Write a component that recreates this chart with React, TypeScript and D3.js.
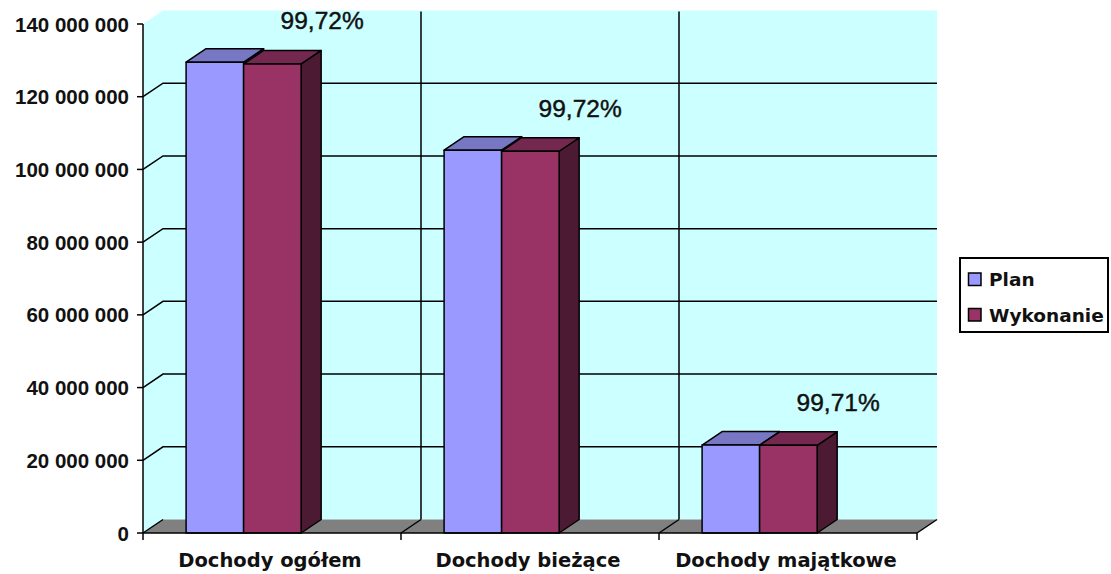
import React from "react";
import * as d3 from "d3";

const categories = ["Dochody ogółem", "Dochody bieżące", "Dochody majątkowe"];
const planValues = [129.5e6, 105.3e6, 24.2e6];
const wykonanieValues = [129.0e6, 105.0e6, 24.13e6];
const percentLabels = ["99,72%", "99,72%", "99,71%"];
const seriesNames = ["Plan", "Wykonanie"];
const yTicks = [0, 20e6, 40e6, 60e6, 80e6, 100e6, 120e6, 140e6];

const W = 1111;
const H = 574;
const DX = 20;
const DY = -13.5;

const colors = {
  plan: { front: "#9999ff", top: "#7777c4", side: "#5c5c99" },
  wyk: { front: "#993366", top: "#74284f", side: "#4d1a33" },
};

const fmt = (v: number) => d3.format(",")(v).replace(/,/g, " ");

function Bar({ x, w, yTop, y0, c }: { x: number; w: number; yTop: number; y0: number; c: any }) {
  const top = [
    [x, yTop],
    [x + DX, yTop + DY],
    [x + w + DX, yTop + DY],
    [x + w, yTop],
  ];
  const side = [
    [x + w, yTop],
    [x + w + DX, yTop + DY],
    [x + w + DX, y0 + DY],
    [x + w, y0],
  ];
  const pts = (p: number[][]) => p.map((q) => q.join(",")).join(" ");
  return (
    <g stroke="#000" strokeWidth={1.5} strokeLinejoin="round">
      <polygon points={pts(side)} fill={c.side} />
      <polygon points={pts(top)} fill={c.top} />
      <rect x={x} y={yTop} width={w} height={y0 - yTop} fill={c.front} />
    </g>
  );
}

export default function App() {
  const x = d3.scaleBand().domain(categories).range([143, 917]).padding(0);
  const y = d3.scaleLinear().domain([0, 140e6]).range([533, 24]);
  const bw = x.bandwidth();
  const [x0, x1] = x.range();
  const y0 = y(0);
  const yTop = y(140e6);

  const wall = [
    [x0, y0],
    [x0, yTop],
    [x0 + DX, yTop + DY],
    [x1 + DX, yTop + DY],
    [x1 + DX, y0 + DY],
    [x0 + DX, y0 + DY],
  ];
  const floor = [
    [x0, y0],
    [x0 + DX, y0 + DY],
    [x1 + DX, y0 + DY],
    [x1, y0],
  ];
  const pts = (p: number[][]) => p.map((q) => q.join(",")).join(" ");
  const bounds = [...categories.map((c) => x(c) as number), x1];

  return (
    <svg
      width={W}
      height={H}
      style={{ position: "absolute", left: 0, top: 0, background: "#fff" }}
    >
      <polygon points={pts(wall)} fill="#ccffff" />
      <polygon points={pts(floor)} fill="#808080" />

      {/* gridlines on side and back walls */}
      <g stroke="#000" strokeWidth={1.5} fill="none">
        {yTicks.slice(1, -1).map((v) => (
          <polyline
            key={v}
            points={`${x0},${y(v)} ${x0 + DX},${y(v) + DY} ${x1 + DX},${y(v) + DY}`}
          />
        ))}
        {bounds.slice(1, -1).map((b) => (
          <line key={b} x1={b + DX} x2={b + DX} y1={yTop + DY + 1} y2={y0 + DY} />
        ))}
        {bounds.map((b) => (
          <line key={"f" + b} x1={b} y1={y0} x2={b + DX} y2={y0 + DY} />
        ))}
      </g>

      {/* bars */}
      {categories.map((c, i) => {
        const bx = (x(c) as number) + bw * 0.167;
        const w = bw * 0.223;
        return (
          <g key={c}>
            <Bar x={bx} w={w} yTop={y(planValues[i])} y0={y0} c={colors.plan} />
            <Bar x={bx + w} w={w} yTop={y(wykonanieValues[i])} y0={y0} c={colors.wyk} />
            <text
              x={bx + 2 * w + DX + 1}
              y={y(wykonanieValues[i]) + DY - 21}
              textAnchor="middle"
              fontFamily="'Liberation Sans', Arial, sans-serif"
              fontSize={24.5}
              fill="#111"
              stroke="#111"
              strokeWidth={0.45}
            >
              {percentLabels[i]}
            </text>
          </g>
        );
      })}

      {/* axes */}
      <g stroke="#000" strokeWidth={1.5}>
        <line x1={x0} x2={x0} y1={yTop} y2={y0} />
        <line x1={x0} x2={x1} y1={y0} y2={y0} />
        {yTicks.map((v) => (
          <line key={v} x1={x0 - 6} x2={x0} y1={y(v)} y2={y(v)} />
        ))}
        {bounds.map((b) => (
          <line key={b} x1={b} x2={b} y1={y0} y2={y0 + 7} />
        ))}
      </g>
      <g
        fontFamily="'Liberation Sans', Arial, sans-serif"
        fontWeight="bold"
        fontSize={20.5}
        fill="#111"
        textAnchor="end"
      >
        {yTicks.map((v) => (
          <text key={v} x={x0 - 14} y={y(v) + 7.5}>
            {fmt(v)}
          </text>
        ))}
      </g>
      <g
        fontFamily="'DejaVu Sans', sans-serif"
        fontWeight="bold"
        fontSize={19.5}
        fill="#111"
        textAnchor="middle"
      >
        {categories.map((c) => (
          <text key={c} x={(x(c) as number) + bw / 2 - 2} y={567}>
            {c}
          </text>
        ))}
      </g>

      {/* legend */}
      <rect x={960} y={258} width={148} height={74} fill="#fff" stroke="#000" strokeWidth={2} />
      {seriesNames.map((s, i) => (
        <g key={s}>
          <rect
            x={968.5}
            y={273 + i * 35.5}
            width={12.5}
            height={12.5}
            fill={i === 0 ? colors.plan.front : colors.wyk.front}
            stroke="#000"
            strokeWidth={1.5}
          />
          <text
            x={989}
            y={286 + i * 35.5}
            fontFamily="'DejaVu Sans', sans-serif"
            fontWeight="bold"
            fontSize={18.5}
            fill="#111"
          >
            {s}
          </text>
        </g>
      ))}
    </svg>
  );
}
